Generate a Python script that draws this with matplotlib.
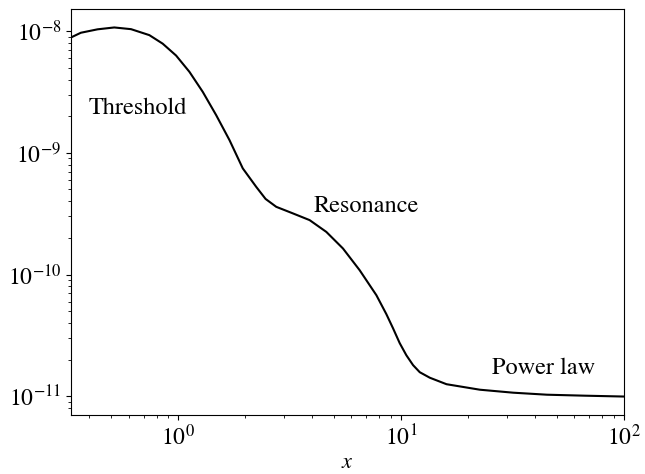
import matplotlib
matplotlib.use("Agg")
import matplotlib.pyplot as plt
from matplotlib.ticker import NullFormatter

plt.rcParams['font.family'] = ['STIXGeneral', 'DejaVu Serif']
plt.rcParams['mathtext.fontset'] = 'stix'

# Curve values (x, y)
x_vals = [0.3304, 0.3661, 0.4351, 0.5170, 0.6148, 0.7430, 0.8526, 0.9795, 1.124, 1.290,
          1.482, 1.701, 1.951, 2.242, 2.469, 2.757, 3.274, 3.892, 4.626, 5.494,
          6.529, 7.762, 8.606, 9.215, 9.876, 10.58, 11.34, 12.15, 13.48, 16.02,
          22.61, 31.90, 45.22, 67.01, 100.0]
y_vals = [8.87e-9, 9.70e-9, 1.035e-8, 1.072e-8, 1.038e-8, 9.27e-9, 7.89e-9, 6.30e-9, 4.63e-9, 3.17e-9,
          2.04e-9, 1.271e-9, 7.45e-10, 5.25e-10, 4.18e-10, 3.60e-10, 3.18e-10, 2.80e-10, 2.24e-10, 1.637e-10,
          1.085e-10, 6.76e-11, 4.72e-11, 3.62e-11, 2.73e-11, 2.17e-11, 1.80e-11, 1.575e-11, 1.419e-11, 1.255e-11,
          1.131e-11, 1.069e-11, 1.029e-11, 1.010e-11, 9.94e-12]

labels = ["Threshold", "Resonance", "Power law"]
label_x = [0.66, 7.0, 43.7]
label_y = [2.33e-9, 3.65e-10, 1.7e-11]

fig = plt.figure(figsize=(6.45, 4.74), dpi=100)
ax = fig.add_axes([0.110, 0.1245, 0.857, 0.8565])
ax.plot(x_vals, y_vals, color='black', lw=1.5)
ax.set_xscale('log')
ax.set_yscale('log')
ax.set_xlim(x_vals[0], x_vals[-1])
ax.xaxis.set_minor_formatter(NullFormatter())
ax.yaxis.set_minor_formatter(NullFormatter())
for t, lx, ly in zip(labels, label_x, label_y):
    ax.text(lx, ly, t, ha='center', va='center', fontsize=17.5)
ax.set_xlabel('$x$', fontsize=16, labelpad=2)
ax.tick_params(labelsize=17)
fig.savefig('out.png', dpi=100)
